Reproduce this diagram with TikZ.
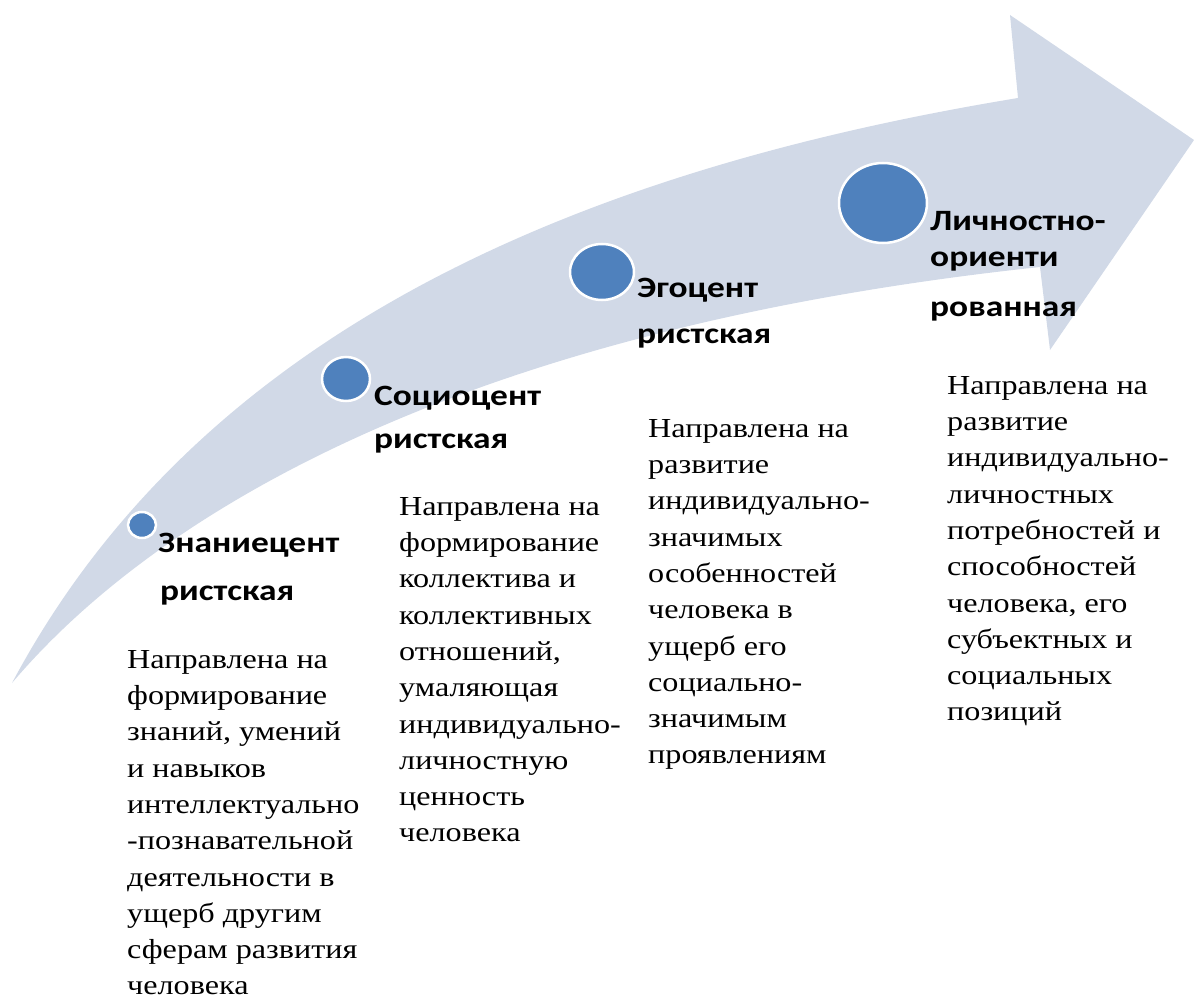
\documentclass[tikz,border=0pt]{standalone}
\usepackage{fontspec}
\setmainfont{Liberation Serif}[FakeStretch=1.17]
\newfontfamily\lblfont{Carlito}[FakeStretch=1.2]
\definecolor{bandfill}{HTML}{D1D9E7}
\definecolor{dotfill}{HTML}{4F81BD}
\begin{document}
\begin{tikzpicture}[x=1pt,y=-1pt,
  dot/.style={fill=dotfill,draw=white,line width=2.5pt},
  stage/.style={font=\lblfont\bfseries\fontsize{29.5}{34}\selectfont,anchor=base west,inner sep=0pt},
  body/.style={font=\fontsize{27.5}{36.3}\selectfont,align=left,anchor=north west,inner sep=0pt}]
\useasboundingbox (0,0) rectangle (1194,1003);

% curved band ending in an arrow head
\fill[bandfill] (12,683) .. controls (200,330) and (580,170) .. (1018,98)
  -- (1010,15) -- (1194,140) -- (1050,350) -- (1040,267)
  .. controls (450,330) and (150,520) .. (12,683) -- cycle;

% stage markers
\draw[dot] (142,525) ellipse [x radius=14, y radius=13];
\draw[dot] (346,379) ellipse [x radius=24, y radius=22];
\draw[dot] (602,272) ellipse [x radius=32, y radius=28];
\draw[dot] (883,203) ellipse [x radius=44, y radius=40];

% stage names
\node[stage] (s1a) at (158,552) {Знаниецент};
\node[stage] (s1b) at (160,600) {ристская};
\node[stage] (s2a) at (374,405) {Социоцент};
\node[stage] (s2b) at (374,448) {ристская};
\node[stage] (s3a) at (637,297) {Эгоцент};
\node[stage] (s3b) at (637,343) {ристская};
\node[stage] (s4a) at (930,231) {Личностно-};
\node[stage] (s4b) at (930,266) {ориенти};
\node[stage] (s4c) at (930,316) {рованная};

% descriptions
\node[body] (d1) at (127,650) {Направлена на\\формирование\\знаний, умений\\и навыков\\интеллектуально\\-познавательной\\деятельности в\\ущерб другим\\сферам развития\\человека};
\node[body] (d2) at (399,497) {Направлена на\\формирование\\коллектива и\\коллективных\\отношений,\\умаляющая\\индивидуально-\\личностную\\ценность\\человека};
\node[body] (d3) at (648,419) {Направлена на\\развитие\\индивидуально-\\значимых\\особенностей\\человека в\\ущерб его\\социально-\\значимым\\проявлениям};
\node[body] (d4) at (947,376) {Направлена на\\развитие\\индивидуально-\\личностных\\потребностей и\\способностей\\человека, его\\субъектных и\\социальных\\позиций};
\end{tikzpicture}
\end{document}
